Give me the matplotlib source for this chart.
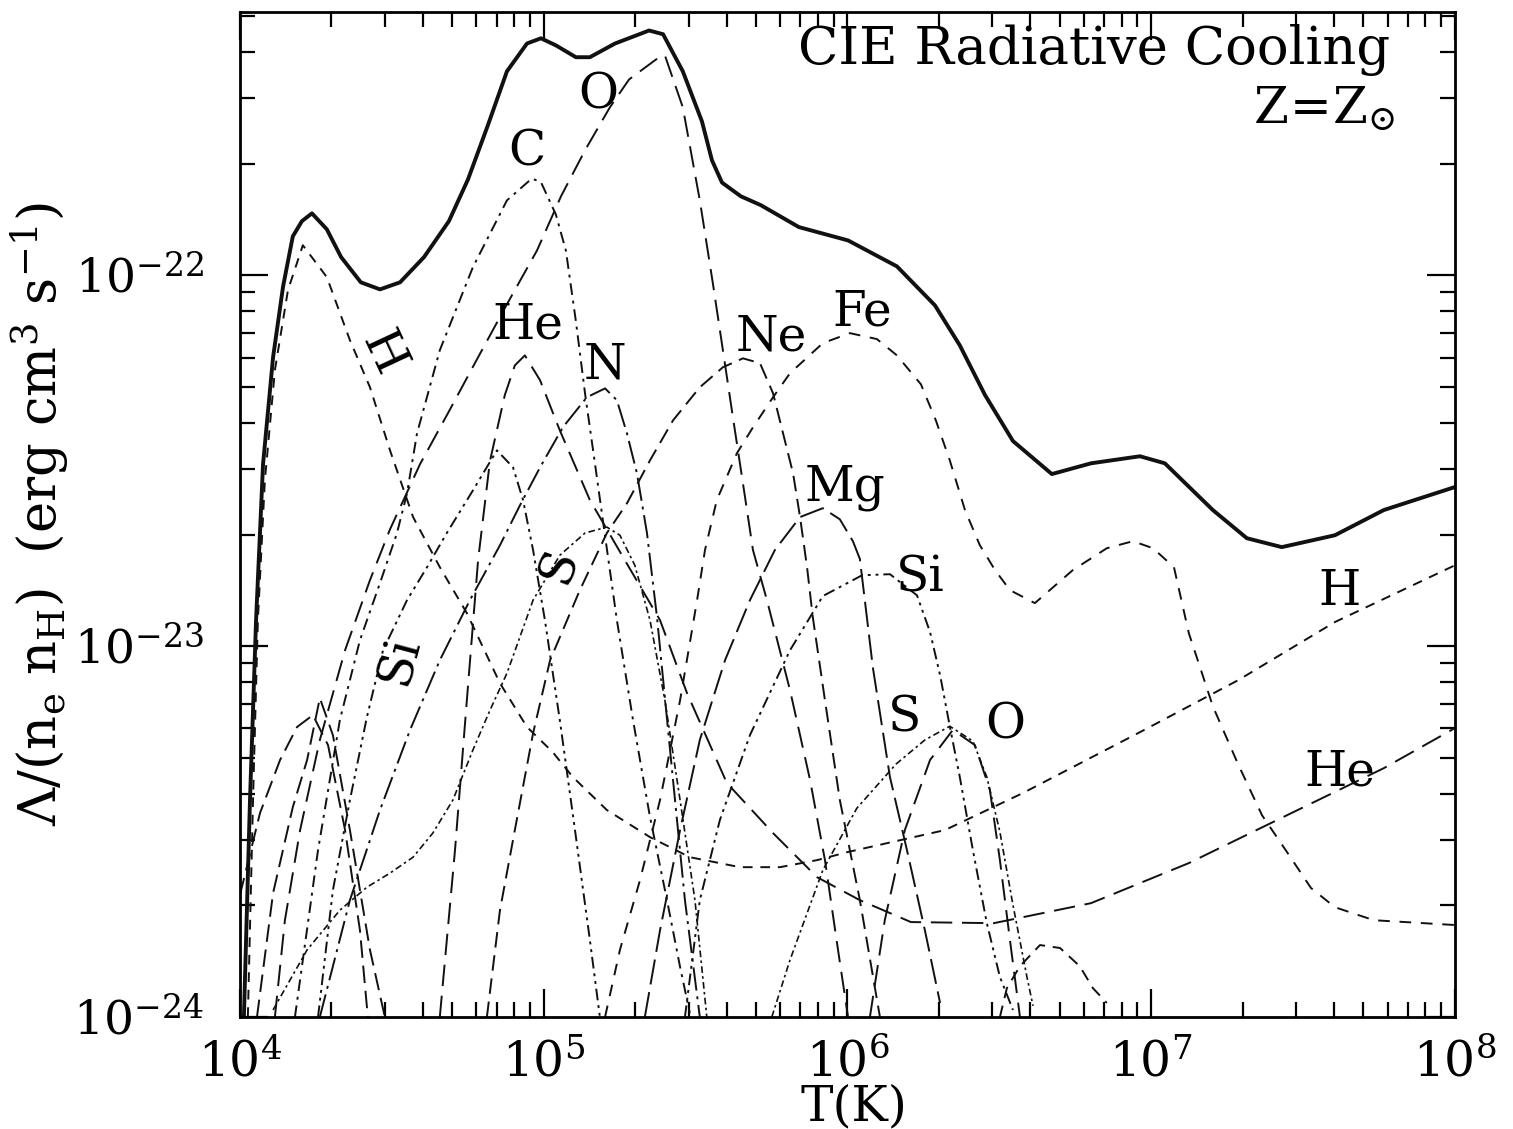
import numpy as np
import matplotlib
matplotlib.use("Agg")
import matplotlib.pyplot as plt
from matplotlib.ticker import NullFormatter

plt.rcParams['font.family'] = ['DejaVu Serif']
plt.rcParams['mathtext.fontset'] = 'dejavuserif'

# log10 T(K) and log10 Lambda(erg cm^3 s^-1) for each curve

# total cooling
tot_T = [4.013, 4.033, 4.053, 4.076, 4.109, 4.142, 4.174, 4.204, 4.237, 4.286,
         4.333, 4.398, 4.461, 4.527, 4.606, 4.688, 4.751, 4.816, 4.879, 4.945,
         4.991, 5.040, 5.106, 5.152, 5.235, 5.347, 5.393, 5.458, 5.521, 5.554, 5.587,
         5.649, 5.715, 5.840, 6.002, 6.163, 6.288, 6.370, 6.453, 6.545, 6.673,
         6.802, 6.963, 7.045, 7.203, 7.315, 7.430, 7.605, 7.766, 8.000]
tot_L = [-24.0, -23.415, -22.930, -22.509, -22.221, -22.030, -21.895, -21.854, -21.833, -21.876,
         -21.951, -22.019, -22.038, -22.019, -21.951, -21.854, -21.741, -21.596, -21.450, -21.375,
         -21.361, -21.380, -21.412, -21.412, -21.375, -21.340, -21.350, -21.450, -21.585, -21.690, -21.750,
         -21.787, -21.811, -21.870, -21.906, -21.976, -22.081, -22.189, -22.323, -22.447, -22.536,
         -22.507, -22.488, -22.507, -22.633, -22.709, -22.733, -22.701, -22.633, -22.571]

# hydrogen
h_T = [4.026, 4.043, 4.059, 4.082, 4.115, 4.158, 4.207, 4.286, 4.362, 4.428,
       4.494, 4.570, 4.658, 4.747, 4.856, 4.945, 5.030, 5.096, 5.208, 5.350,
       5.481, 5.646, 5.778, 5.900, 6.002, 6.321, 6.578, 6.963, 7.286, 7.605, 8.000]
h_L = [-24.0, -23.415, -22.930, -22.553, -22.256, -22.040, -21.919, -22.005, -22.175, -22.302,
       -22.472, -22.652, -22.787, -22.911, -23.100, -23.218, -23.286, -23.353, -23.442, -23.515,
       -23.569, -23.596, -23.596, -23.577, -23.555, -23.496, -23.396, -23.232, -23.092, -22.935, -22.782]

# helium
he_T = [4.658, 4.708, 4.747, 4.784, 4.823, 4.872, 4.905, 4.938, 4.988, 5.053,
        5.152, 5.267, 5.383, 5.472, 5.603, 5.755, 5.900, 6.041, 6.209, 6.482,
        6.802, 7.124, 7.447, 7.766, 8.000]
he_L = [-24.0, -23.550, -23.146, -22.768, -22.501, -22.323, -22.243, -22.216, -22.283, -22.418,
        -22.606, -22.768, -22.930, -23.127, -23.369, -23.504, -23.623, -23.685, -23.744, -23.747,
        -23.693, -23.585, -23.456, -23.329, -23.221]

# carbon
c_T = [4.181, 4.257, 4.329, 4.395, 4.461, 4.517, 4.550, 4.583, 4.658, 4.767,
       4.879, 4.961, 4.991, 5.040, 5.073, 5.106, 5.136, 5.169, 5.202, 5.241,
       5.294, 5.350, 5.406, 5.449, 5.481]
c_L = [-24.0, -23.550, -23.199, -22.984, -22.830, -22.695, -22.588, -22.426, -22.202, -21.978,
       -21.798, -21.739, -21.749, -21.836, -21.933, -22.124, -22.318, -22.509, -22.703, -22.930,
       -23.199, -23.461, -23.685, -23.865, -23.989]

# oxygen, low and high temperature humps
o_T = [4.115, 4.148, 4.198, 4.263, 4.346, 4.428, 4.494, 4.593, 4.688, 4.784,
       4.879, 4.978, 5.057, 5.136, 5.218, 5.281, 5.370, 5.399, 5.458, 5.514,
       5.557, 5.590, 5.623, 5.656, 5.689, 5.735, 5.811, 5.877, 5.926, 5.969, 6.002]
o_L = [-24.0, -23.739, -23.496, -23.253, -23.011, -22.822, -22.685, -22.509, -22.367, -22.221,
       -22.078, -21.933, -21.787, -21.663, -21.547, -21.472, -21.418, -21.407, -21.547, -21.798,
       -22.022, -22.202, -22.383, -22.561, -22.741, -22.876, -23.119, -23.361, -23.577, -23.819, -24.0]
o2_T = [6.074, 6.123, 6.189, 6.272, 6.347, 6.420, 6.469, 6.502, 6.535, 6.568]
o2_L = [-24.0, -23.739, -23.496, -23.307, -23.226, -23.267, -23.388, -23.577, -23.792, -24.0]

# nitrogen
n_T = [4.263, 4.362, 4.461, 4.560, 4.658, 4.757, 4.856, 4.922, 4.988, 5.063,
       5.142, 5.202, 5.241, 5.274, 5.307, 5.340, 5.373, 5.416, 5.465, 5.514]
n_L = [-24.0, -23.685, -23.442, -23.226, -23.038, -22.876, -22.728, -22.620, -22.518, -22.410,
       -22.329, -22.305, -22.337, -22.426, -22.534, -22.695, -22.922, -23.280, -23.685, -24.0]

# neon
ne_T = [4.813, 4.856, 4.905, 4.965, 5.021, 5.119, 5.208, 5.274, 5.350, 5.426,
        5.514, 5.590, 5.656, 5.712, 5.755, 5.788, 5.821, 5.844, 5.867, 5.886,
        5.926, 5.975, 6.041, 6.107]
ne_L = [-24.0, -23.712, -23.496, -23.235, -23.038, -22.849, -22.695, -22.615, -22.499, -22.391,
        -22.302, -22.248, -22.224, -22.237, -22.318, -22.426, -22.534, -22.652, -22.787, -22.922,
        -23.146, -23.415, -23.685, -24.0]

# magnesium
mg_T = [5.333, 5.383, 5.449, 5.514, 5.597, 5.679, 5.761, 5.844, 5.919, 5.975,
        6.018, 6.041, 6.084, 6.140, 6.196, 6.255, 6.305]
mg_L = [-24.0, -23.766, -23.496, -23.253, -23.038, -22.876, -22.741, -22.652, -22.628, -22.658,
        -22.717, -22.765, -23.059, -23.353, -23.550, -23.766, -23.962]
mg2_T = [6.502, 6.525, 6.568, 6.634, 6.700, 6.765, 6.808, 6.854]
mg2_L = [-24.0, -23.922, -23.863, -23.806, -23.814, -23.863, -23.922, -23.962]

# iron
fe_T = [5.202, 5.251, 5.317, 5.383, 5.449, 5.505, 5.531, 5.570, 5.636, 5.689,
        5.755, 5.811, 5.919, 6.008, 6.097, 6.163, 6.242, 6.291, 6.337, 6.387,
        6.436, 6.486, 6.535, 6.617, 6.742, 6.854, 6.940, 7.006, 7.075, 7.124,
        7.203, 7.286, 7.365, 7.447, 7.526, 7.605, 7.733, 8.000]
fe_L = [-24.0, -23.819, -23.631, -23.415, -23.146, -22.876, -22.741, -22.606, -22.480, -22.410,
        -22.329, -22.264, -22.183, -22.156, -22.172, -22.216, -22.294, -22.391, -22.499, -22.633,
        -22.728, -22.795, -22.849, -22.884, -22.795, -22.736, -22.717, -22.736, -22.787, -22.965,
        -23.162, -23.318, -23.456, -23.555, -23.652, -23.704, -23.739, -23.752]
fe0_T = [4.000, 4.066, 4.132, 4.188, 4.240, 4.290, 4.346, 4.395, 4.421]
fe0_L = [-23.671, -23.450, -23.307, -23.218, -23.186, -23.267, -23.496, -23.766, -24.0]

# silicon
si_T = [4.257, 4.306, 4.362, 4.418, 4.471, 4.550, 4.616, 4.681, 4.767, 4.846,
        4.899, 4.932, 4.965, 5.004, 5.053, 5.103, 5.152, 5.185]
si_L = [-24.0, -23.658, -23.415, -23.191, -23.011, -22.876, -22.787, -22.695, -22.580, -22.472,
        -22.518, -22.606, -22.741, -22.930, -23.199, -23.496, -23.792, -24.0]
si2_T = [5.465, 5.514, 5.580, 5.679, 5.811, 5.919, 6.048, 6.140, 6.229, 6.272,
         6.305, 6.337, 6.370, 6.413, 6.459, 6.502, 6.545]
si2_L = [-24.0, -23.685, -23.469, -23.240, -23.011, -22.865, -22.809, -22.806, -22.863, -22.962,
         -23.078, -23.216, -23.353, -23.550, -23.747, -23.892, -23.981]

# sulphur
s_T = [4.109, 4.221, 4.329, 4.418, 4.494, 4.570, 4.635, 4.701, 4.767, 4.823,
       4.879, 4.965, 5.053, 5.136, 5.208, 5.251, 5.300, 5.350, 5.399, 5.449,
       5.498, 5.537]
s_L = [-23.981, -23.819, -23.712, -23.650, -23.612, -23.569, -23.504, -23.415, -23.280, -23.173,
       -23.073, -22.876, -22.755, -22.695, -22.679, -22.701, -22.782, -22.930, -23.146, -23.415,
       -23.685, -24.0]
s2_T = [5.751, 5.811, 5.919, 6.031, 6.160, 6.255, 6.337, 6.413, 6.459, 6.502,
        6.545, 6.591, 6.611]
s2_L = [-24.0, -23.846, -23.604, -23.437, -23.318, -23.253, -23.216, -23.256, -23.353, -23.501,
        -23.698, -23.892, -23.970]

# low temperature bump (Mg/Si ions)
lo_T = [4.056, 4.109, 4.174, 4.221, 4.263, 4.306, 4.362, 4.428, 4.477]
lo_L = [-24.0, -23.666, -23.434, -23.307, -23.140, -23.240, -23.496, -23.819, -24.0]

# axis ticks
x_ticks = [1e4, 1e5, 1e6, 1e7, 1e8]
y_ticks = [1e-24, 1e-23, 1e-22]

fig = plt.figure(figsize=(15.13, 11.29), dpi=100)
ax = fig.add_axes([0.1586, 0.0992, 0.8030, 0.8902])


def draw(lt, ll, dashes, lw=1.4):
    ax.plot(10 ** np.array(lt), 10 ** np.array(ll), color='#111111', lw=lw,
            dashes=dashes, solid_capstyle='butt', dash_capstyle='butt')


ax.plot(10 ** np.array(tot_T), 10 ** np.array(tot_L), color='#111111', lw=2.8,
        solid_joinstyle='round')
draw(h_T, h_L, (5, 4))
draw(he_T, he_L, (11, 5))
draw(c_T, c_L, (6, 3, 1.5, 3))
draw(o_T, o_L, (11, 5))
draw(o2_T, o2_L, (11, 5))
draw(n_T, n_L, (12, 3, 1.5, 3))
draw(ne_T, ne_L, (8, 4))
draw(mg_T, mg_L, (13, 4))
draw(mg2_T, mg2_L, (6, 4))
draw(fe_T, fe_L, (6, 5))
draw(fe0_T, fe0_L, (9, 4))
draw(si_T, si_L, (6, 2.5, 1.5, 2.5, 1.5, 2.5))
draw(si2_T, si2_L, (6, 2.5, 1.5, 2.5, 1.5, 2.5))
draw(s_T, s_L, (4, 2, 1.5, 2), lw=1.2)
draw(s2_T, s2_L, (4, 2, 1.5, 2), lw=1.2)
draw(lo_T, lo_L, (9, 4))

ax.set_xscale('log')
ax.set_yscale('log')
ax.set_xticks(x_ticks)
ax.set_yticks(y_ticks)
ax.xaxis.set_minor_formatter(NullFormatter())
ax.yaxis.set_minor_formatter(NullFormatter())
ax.set_xlim(1e4, 1e8)
ax.set_ylim(1e-24, 10 ** -21.29)

for s in ax.spines.values():
    s.set_linewidth(2.0)
ax.tick_params(which='both', direction='in', top=True, right=True, width=1.6)
ax.tick_params(which='major', length=20)
ax.tick_params(which='minor', length=11)
ax.tick_params(axis='x', which='major', pad=16, labelsize=35)
ax.tick_params(axis='y', which='major', pad=26, labelsize=34)

ax.set_xlabel('T(K)', fontsize=35)
ax.xaxis.set_label_coords(0.505, -0.066)
ax.set_ylabel(r'$\Lambda/(\mathrm{n_e\ n_H})\ \ (\mathrm{erg\ cm^3\ s^{-1}})$', fontsize=38)
ax.yaxis.set_label_coords(-0.138, 0.5)

ax.text(0.947, 0.962, 'CIE Radiative Cooling', transform=ax.transAxes,
        ha='right', va='center', fontsize=38)
ax.text(0.951, 0.903, r'$\mathrm{Z\!=\!Z_{\odot}}$', transform=ax.transAxes,
        ha='right', va='center', fontsize=36)

# element labels
lab_txt = ['H', 'He', 'C', 'O', 'N', 'Ne', 'Fe', 'Mg', 'Si', 'Si', 'S', 'S', 'O', 'H', 'He']
lab_T = [4.471, 4.948, 4.945, 5.179, 5.202, 5.751, 6.048, 5.992, 6.239, 4.527, 5.053, 6.189, 6.519, 7.621, 7.621]
lab_L = [-22.210, -22.135, -21.668, -21.515, -22.243, -22.167, -22.100, -22.571, -22.817, -23.038,
         -22.782, -23.194, -23.213, -22.854, -23.340]
lab_rot = [-65, 0, 0, 0, 0, 0, 0, 0, 0, 75, 70, 0, 0, 0, 0]
for t, x, y, r in zip(lab_txt, lab_T, lab_L, lab_rot):
    ax.text(10 ** x, 10 ** y, t, fontsize=35, ha='center', va='center', rotation=r)

fig.savefig('out.png', dpi=100)
